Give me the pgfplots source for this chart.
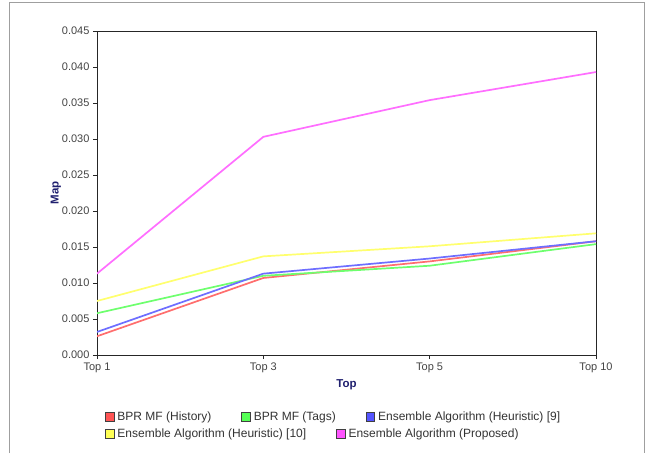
\documentclass[border=0pt]{standalone}
\usepackage{fontspec}
\setmainfont{Liberation Sans}
\usepackage{pgfplots}
\pgfplotsset{compat=1.18}
\definecolor{cRed}{HTML}{FF5555}
\definecolor{cGreen}{HTML}{55FF55}
\definecolor{cBlue}{HTML}{5555FF}
\definecolor{cYellow}{HTML}{FFFF55}
\definecolor{cPink}{HTML}{FF55FF}
\definecolor{tickgray}{HTML}{444444}
\definecolor{labnavy}{HTML}{20206F}
\pgfplotsset{
  legsq/.style={
    legend image code/.code={\draw[##1, draw=black!75, line width=0.8pt] (0pt,-4.5pt) rectangle (8.5pt,4.5pt);}
  }
}
\begin{document}
\begin{tikzpicture}
\path[use as bounding box] (0pt,0pt) rectangle (653pt,453pt);
\draw[gray!75, line width=1pt] (9.5pt,0pt) -- (9.5pt,450pt) -- (644pt,450pt) -- (644pt,0pt);
\begin{axis}[
  at={(97pt,98pt)}, anchor=south west,
  scale only axis, width=499pt, height=324pt,
  xmin=0, xmax=3, ymin=0, ymax=0.045,
  xtick={0,1,2,3}, xticklabels={Top 1,Top 3,Top 5,Top 10},
  ytick={0,0.005,0.01,0.015,0.02,0.025,0.03,0.035,0.04,0.045},
  scaled y ticks=false,
  yticklabel style={/pgf/number format/fixed, /pgf/number format/fixed zerofill, /pgf/number format/precision=3, /pgf/number format/assume math mode=true},
  ticklabel style={font=\fontsize{11}{12}\selectfont, text=tickgray},
  tick align=outside, tick pos=left, major tick length=4pt,
  axis line style={black!85, line width=0.8pt},
  tick style={black!85, line width=0.8pt},
  xlabel={\textbf{Top}}, ylabel={\textbf{Map}},
  label style={font=\fontsize{11.5}{13}\selectfont, text=labnavy},
  xlabel style={yshift=0pt},
  ylabel style={yshift=-6pt},
  legsq,
  legend style={draw=none, fill=none, at={(0.016,-0.191)}, anchor=west, inner sep=0pt,
    font=\fontsize{12}{13}\selectfont, text=black!80,
    /tikz/every odd column/.append style={column sep=1pt},
    /tikz/every even column/.append style={column sep=28pt}},
  legend columns=-1,
]
\addplot[cRed!85!white, line width=1.7pt, forget plot] coordinates {(0,0.0026) (1,0.0107) (2,0.0130) (3,0.0158)};
\addplot[cGreen!85!white, line width=1.7pt, forget plot] coordinates {(0,0.0058) (1,0.0110) (2,0.0124) (3,0.0154)};
\addplot[cBlue!85!white, line width=1.7pt, forget plot] coordinates {(0,0.0032) (1,0.0113) (2,0.0134) (3,0.0158)};
\addplot[cYellow!85!white, line width=1.7pt, forget plot] coordinates {(0,0.0075) (1,0.0137) (2,0.0151) (3,0.0169)};
\addplot[cPink!85!white, line width=1.7pt, forget plot] coordinates {(0,0.0113) (1,0.0303) (2,0.0354) (3,0.0393)};
\addlegendimage{fill=cRed}
\addlegendentry{BPR MF (History)}
\addlegendimage{fill=cGreen}
\addlegendentry{BPR MF (Tags)}
\addlegendimage{fill=cBlue}
\addlegendentry{Ensemble Algorithm (Heuristic) [9]}
\end{axis}
\begin{axis}[
  at={(97pt,98pt)}, anchor=south west,
  scale only axis, width=499pt, height=324pt,
  xmin=0, xmax=3, ymin=0, ymax=0.045,
  hide axis,
  legsq,
  legend style={draw=none, fill=none, at={(0.016,-0.244)}, anchor=west, inner sep=0pt,
    font=\fontsize{12}{13}\selectfont, text=black!80,
    /tikz/every odd column/.append style={column sep=1pt},
    /tikz/every even column/.append style={column sep=28pt}},
  legend columns=-1,
]
\addlegendimage{fill=cYellow}
\addlegendentry{Ensemble Algorithm (Heuristic) [10]}
\addlegendimage{fill=cPink}
\addlegendentry{Ensemble Algorithm (Proposed)}
\end{axis}
\end{tikzpicture}
\end{document}
